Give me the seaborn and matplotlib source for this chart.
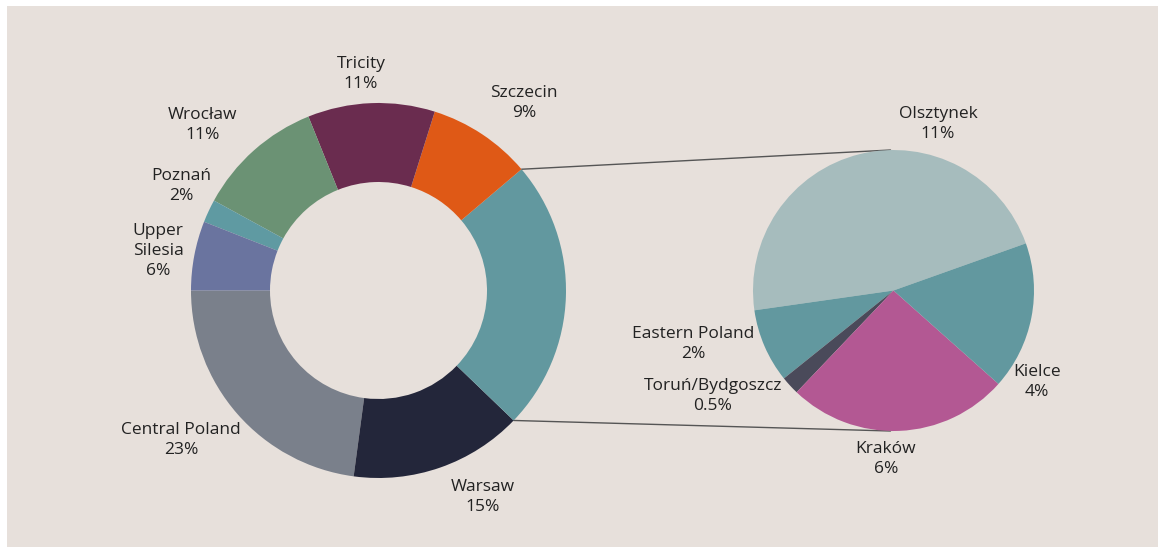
import matplotlib
matplotlib.use("Agg")
import matplotlib.pyplot as plt
from matplotlib.patches import Rectangle
import numpy as np
import seaborn as sns

# Regional shares (%) shown in the donut; "Other regions" is broken down in the pie
donut_labels = ["Central Poland", "Warsaw", "Other regions", "Szczecin", "Tricity",
                "Wrocław", "Poznań", "Upper\nSilesia"]
donut_values = [23, 15, 23.5, 9, 11, 11, 2, 6]
donut_colors = ["#7a808b", "#23263a", "#62989f", "#df5916", "#6a2c4f",
                "#6b9274", "#5f9aa2", "#6a749f"]

# Breakdown of the "Other regions" segment
pie_labels = ["Olsztynek", "Eastern Poland", "Toruń/Bydgoszcz", "Kraków", "Kielce"]
pie_values = [11, 2, 0.5, 6, 4]
pie_colors = ["#a6bcbd", "#62989f", "#4a4a5a", "#b35893", "#62989f"]

# Label anchor points (figure pixels, y measured from top)
donut_label_pos = {
    "Central Poland": (181, 440), "Warsaw": (483, 497), "Szczecin": (524, 103),
    "Tricity": (361, 74), "Wrocław": (203, 125), "Poznań": (181, 186),
    "Upper\nSilesia": (158, 251),
}
pie_label_pos = {
    "Olsztynek": (938, 124), "Eastern Poland": (693, 344),
    "Toruń/Bydgoszcz": (713, 396), "Kraków": (886, 459), "Kielce": (1037, 382),
}

W, H = 1160, 550
BG = "#e7e0db"
TEXT = "#222222"

sns.set_theme(style="white")
plt.rcParams["font.family"] = ["Open Sans", "DejaVu Sans"]

fig = plt.figure(figsize=(W / 100, H / 100), dpi=100, facecolor="white")
ax = fig.add_axes([0, 0, 1, 1])

# beige panel
ax.add_patch(Rectangle((7, 3), W - 9, H - 9, facecolor=BG, edgecolor="none", zorder=0))

donut_center = (378.5, H - 290.5)
donut_r = 187.5
donut_w = 79
pie_center = (893.5, H - 290.5)
pie_r = 140.5

wedges, _ = ax.pie(donut_values, colors=sns.color_palette(donut_colors),
                   startangle=180, counterclock=True, center=donut_center,
                   radius=donut_r, wedgeprops=dict(width=donut_w, linewidth=0),
                   frame=True)
pwedges, _ = ax.pie(pie_values, colors=sns.color_palette(pie_colors),
                    startangle=19.6, counterclock=True, center=pie_center,
                    radius=pie_r, wedgeprops=dict(linewidth=0), frame=True)
ax.set_xlim(0, W)
ax.set_ylim(0, H)
ax.set_aspect("equal")
ax.axis("off")

def fmt(v):
    return f"{v:g}%"

for name, val in zip(donut_labels, donut_values):
    if name in donut_label_pos:
        x, y = donut_label_pos[name]
        ax.text(x, H - y, f"{name}\n{fmt(val)}", ha="center", va="center",
                fontsize=12.5, color=TEXT, linespacing=1.3)

for name, val in zip(pie_labels, pie_values):
    x, y = pie_label_pos[name]
    ax.text(x, H - y, f"{name}\n{fmt(val)}", ha="center", va="center",
            fontsize=12.5, color=TEXT, linespacing=1.3)

# connector lines from the "Other regions" segment to the breakdown pie
other = wedges[donut_labels.index("Other regions")]
for ang, py in ((other.theta2, pie_center[1] + pie_r), (other.theta1, pie_center[1] - pie_r)):
    sx = donut_center[0] + donut_r * np.cos(np.radians(ang))
    sy = donut_center[1] + donut_r * np.sin(np.radians(ang))
    ax.plot([sx, pie_center[0] - 3], [sy, py], color="#555555", lw=1, zorder=0.5)

fig.savefig("out.png", dpi=100, facecolor="white")
